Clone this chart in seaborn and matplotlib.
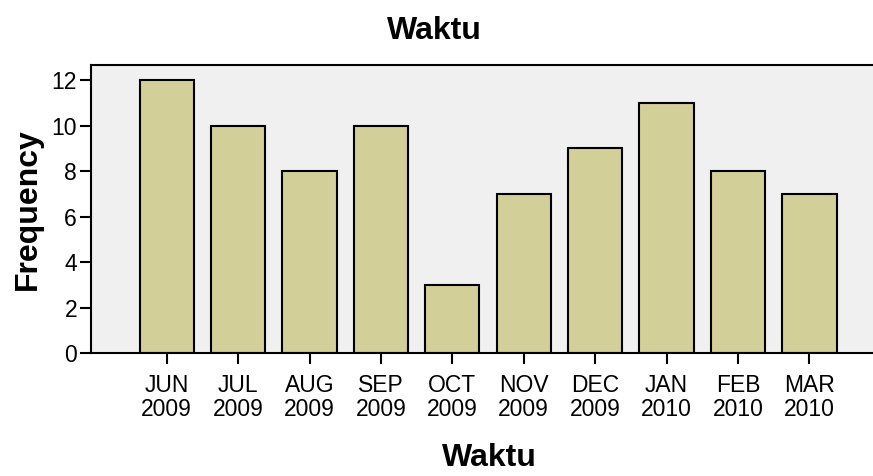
import pandas as pd
import numpy as np
import matplotlib.pyplot as plt
import seaborn as sns

# data
months = ['JUN\n2009', 'JUL\n2009', 'AUG\n2009', 'SEP\n2009', 'OCT\n2009',
          'NOV\n2009', 'DEC\n2009', 'JAN\n2010', 'FEB\n2010', 'MAR\n2010']
frequency = [12, 10, 8, 10, 3, 7, 9, 11, 8, 7]
y_ticks = [0, 2, 4, 6, 8, 10, 12]

df = pd.DataFrame({'Waktu': months, 'Frequency': frequency})

sns.set_style('white')
plt.rcParams['font.family'] = ['Liberation Sans', 'DejaVu Sans']
plt.rcParams['text.color'] = 'black'
plt.rcParams['axes.labelcolor'] = 'black'
plt.rcParams['xtick.color'] = 'black'
plt.rcParams['ytick.color'] = 'black'

fig = plt.figure(figsize=(8.73, 4.76), dpi=100)
ax = fig.add_axes([0.1042, 0.2584, 0.8958, 0.605])

sns.barplot(data=df, x='Waktu', y='Frequency', color='#D3CF98',
            edgecolor='black', linewidth=1.5, width=0.76, saturation=1, ax=ax)

ax.set_facecolor('#F0F0F0')
ax.set_xlim(-1.06, 9.89)
ax.set_ylim(0, 12.66)
ax.set_yticks(y_ticks)

for side in ['left', 'bottom', 'top']:
    ax.spines[side].set_color('black')
    ax.spines[side].set_linewidth(1.5)
ax.spines['right'].set_visible(False)

ax.tick_params(axis='both', direction='out', length=8, width=1.5,
               color='black', labelsize=16.5)
ax.tick_params(axis='x', bottom=True, pad=7)
ax.tick_params(axis='y', left=True, pad=2)
for lbl in ax.get_xticklabels():
    lbl.set_linespacing(1.05)

ax.set_title('Waktu', fontsize=23, fontweight='bold', pad=19, x=0.439)
ax.set_xlabel('Waktu', fontsize=23, fontweight='bold', labelpad=16, x=0.509)
ax.set_ylabel('Frequency', fontsize=23, fontweight='bold', labelpad=6)

fig.savefig('out.png', dpi=100)
